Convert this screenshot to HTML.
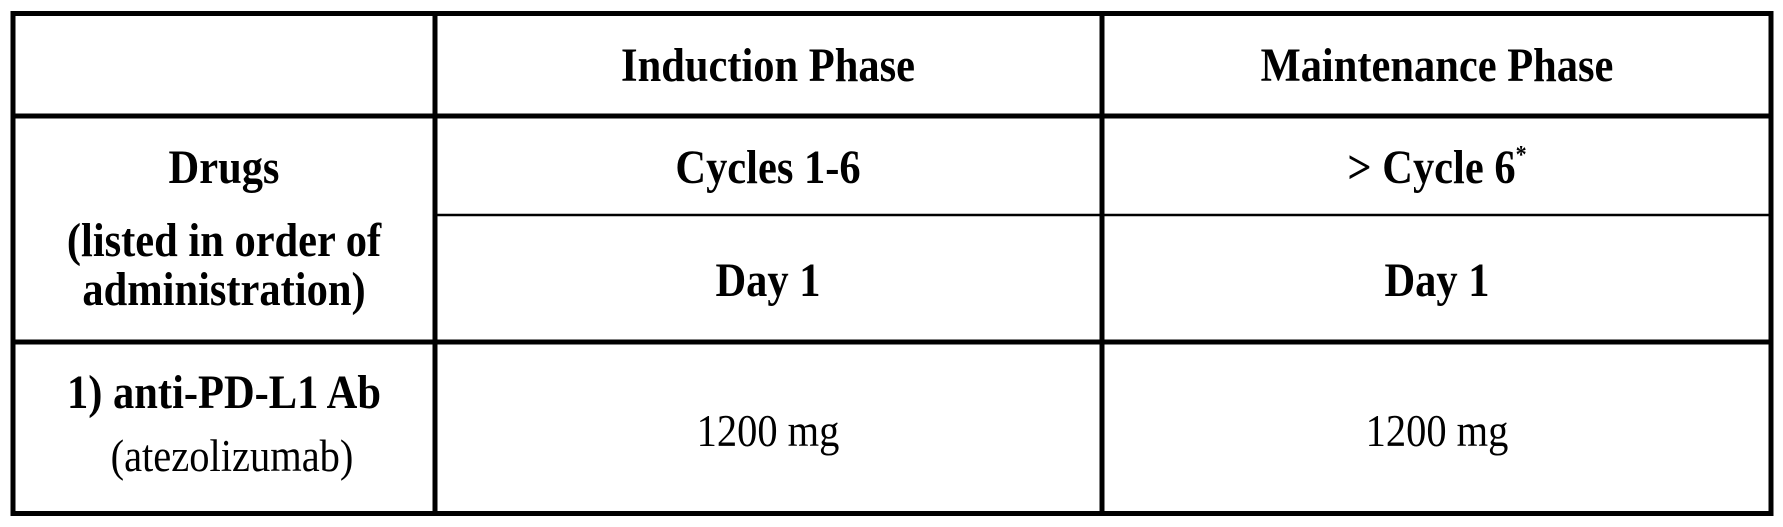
<!DOCTYPE html>
<html><head><style>
html,body{margin:0;padding:0;background:#fff;}
svg{display:block;}
text{font-family:"Liberation Serif","Times New Roman",serif;fill:#000;}
.b{font-weight:bold;font-size:42.5px;}
.r{font-size:40.5px;}
</style></head><body>
<svg width="1783" height="527" viewBox="0 0 1783 527">
<g stroke="#000" fill="none">
<rect x="13" y="13.5" width="1758" height="500" stroke-width="5"/>
<line x1="435" y1="13" x2="435" y2="514" stroke-width="5"/>
<line x1="1102" y1="13" x2="1102" y2="514" stroke-width="5"/>
<line x1="13" y1="116" x2="1771" y2="116" stroke-width="5"/>
<line x1="13" y1="342" x2="1771" y2="342" stroke-width="5"/>
<line x1="435" y1="215" x2="1771" y2="215" stroke-width="2.5"/>
</g>
<g text-anchor="middle">
<text class="b" transform="translate(768,81) scale(1,1.13)">Induction Phase</text>
<text class="b" transform="translate(1437,81) scale(1,1.13)">Maintenance Phase</text>
<text class="b" transform="translate(224,183) scale(1,1.13)">Drugs</text>
<text class="b" transform="translate(224,256) scale(1,1.13)">(listed in order of</text>
<text class="b" transform="translate(224,305) scale(1,1.13)">administration)</text>
<text class="b" transform="translate(768,183) scale(1,1.13)">Cycles 1-6</text>
<text class="b" transform="translate(1437,183) scale(1,1.13)">&gt; Cycle 6<tspan font-size="22" dy="-18">*</tspan></text>
<text class="b" transform="translate(768,296) scale(1,1.13)">Day 1</text>
<text class="b" transform="translate(1437,296) scale(1,1.13)">Day 1</text>
<text class="b" transform="translate(224,408) scale(1,1.13)">1) anti-PD-L1 Ab</text>
<text class="r" transform="translate(232,471) scale(1,1.13)">(atezolizumab)</text>
<text class="r" transform="translate(768,446) scale(1,1.13)">1200 mg</text>
<text class="r" transform="translate(1437,446) scale(1,1.13)">1200 mg</text>
</g>
</svg>
</body></html>
